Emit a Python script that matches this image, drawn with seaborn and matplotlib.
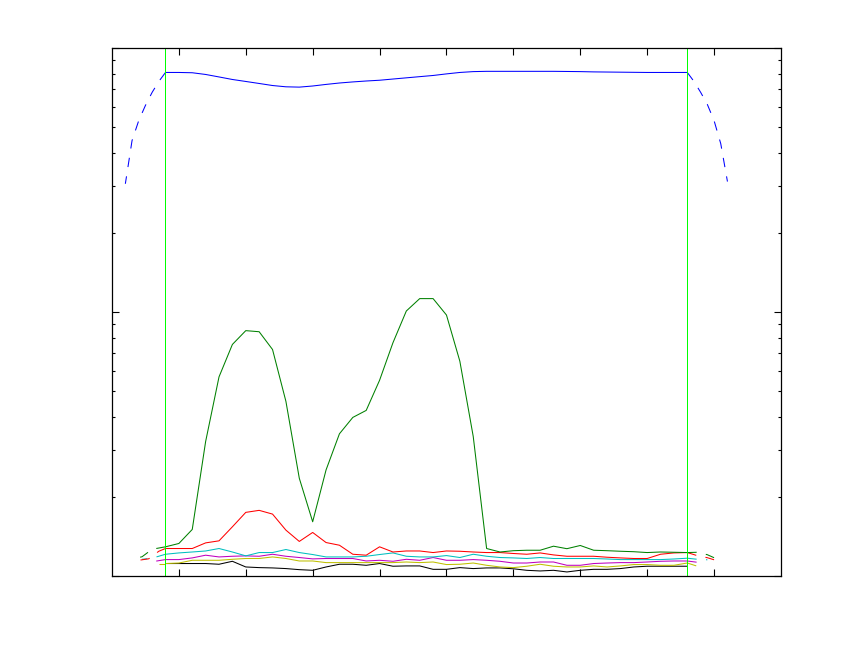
import matplotlib
matplotlib.use("Agg")
import matplotlib.pyplot as plt
import seaborn as sns
import pandas as pd

# sample positions of the solid part (inside the two markers)
x_grid = [0.8, 1.0, 1.2, 1.4, 1.6, 1.8, 2.0, 2.2, 2.4, 2.6,
          2.8, 3.0, 3.2, 3.4, 3.6, 3.8, 4.0, 4.2, 4.4, 4.6,
          4.8, 5.0, 5.2, 5.4, 5.6, 5.8, 6.0, 6.2, 6.4, 6.6,
          6.8, 7.0, 7.2, 7.4, 7.6, 7.8, 8.0, 8.2, 8.4, 8.6]

blue = [8.08, 8.08, 8.06, 7.94, 7.77, 7.60, 7.47, 7.34, 7.21, 7.13,
        7.11, 7.18, 7.28, 7.37, 7.44, 7.50, 7.55, 7.63, 7.71, 7.79,
        7.87, 7.98, 8.08, 8.14, 8.16, 8.16, 8.16, 8.16, 8.16, 8.16,
        8.15, 8.14, 8.12, 8.11, 8.10, 8.09, 8.08, 8.08, 8.08, 8.08]
green = [0.129, 0.1328, 0.1501, 0.3232, 0.5679, 0.7536, 0.850, 0.842, 0.721, 0.4587,
         0.2346, 0.1605, 0.2522, 0.3457, 0.3988, 0.4239, 0.5513, 0.7649, 1.009, 1.124,
         1.124, 0.974, 0.651, 0.3377, 0.1271, 0.1233, 0.1247, 0.1252, 0.1252, 0.1297,
         0.1269, 0.1305, 0.1252, 0.1247, 0.1241, 0.1236, 0.1227, 0.1233, 0.1230, 0.1227]
red = [0.1271, 0.1271, 0.1271, 0.1335, 0.1359, 0.1536, 0.1742, 0.1773, 0.1716, 0.1492,
       0.1352, 0.1462, 0.1339, 0.1308, 0.1209, 0.1199, 0.1290, 0.1233, 0.1244, 0.1244,
       0.1227, 0.1244, 0.1241, 0.1233, 0.1227, 0.1227, 0.1217, 0.1209, 0.1223, 0.1202,
       0.1188, 0.1188, 0.1188, 0.1178, 0.1171, 0.1165, 0.1165, 0.1209, 0.1223, 0.1227]
cyan = [0.1209, 0.1223, 0.1233, 0.1244, 0.1271, 0.1233, 0.1192, 0.1227, 0.1227, 0.1260,
        0.1227, 0.1206, 0.1181, 0.1181, 0.1181, 0.1188, 0.1206, 0.1223, 0.1188, 0.1181,
        0.1181, 0.1195, 0.1175, 0.1209, 0.1188, 0.1175, 0.1171, 0.1165, 0.1175, 0.1165,
        0.1165, 0.1165, 0.1165, 0.1160, 0.1154, 0.1154, 0.1154, 0.1154, 0.1160, 0.1168]
magenta = [0.1154, 0.1154, 0.1171, 0.1199, 0.1181, 0.1188, 0.1192, 0.1188, 0.1209, 0.1188,
           0.1175, 0.1161, 0.1165, 0.1165, 0.1165, 0.1140, 0.1147, 0.1137, 0.1157, 0.1147,
           0.1175, 0.1147, 0.1147, 0.1154, 0.1147, 0.1137, 0.1120, 0.1120, 0.1130, 0.1130,
           0.1098, 0.1098, 0.1115, 0.1120, 0.1124, 0.1124, 0.1130, 0.1137, 0.1140, 0.1140]
yellow = [0.1115, 0.1120, 0.1147, 0.1147, 0.1147, 0.1157, 0.1165, 0.1165, 0.1181, 0.1165,
          0.1140, 0.1140, 0.1124, 0.1124, 0.1124, 0.1124, 0.1124, 0.1124, 0.1130, 0.1124,
          0.1130, 0.1105, 0.1108, 0.1120, 0.1098, 0.1082, 0.1076, 0.1089, 0.1108, 0.1089,
          0.1082, 0.1082, 0.1092, 0.1082, 0.1092, 0.1105, 0.1105, 0.1098, 0.1098, 0.1120]
black = [0.1115, 0.1115, 0.1115, 0.1115, 0.1108, 0.1137, 0.1082, 0.1076, 0.1073, 0.1067,
         0.1057, 0.1051, 0.1082, 0.1108, 0.1108, 0.1098, 0.1115, 0.1089, 0.1092, 0.1092,
         0.1060, 0.1060, 0.1076, 0.1067, 0.1073, 0.1073, 0.1065, 0.1051, 0.1045, 0.1051,
         0.1036, 0.1051, 0.1060, 0.1060, 0.1067, 0.1082, 0.1089, 0.1089, 0.1089, 0.1089]

# dashed tails outside the markers: (left x, left y, right x, right y)
blue_tail = ([0.2, 0.3, 0.4, 0.5, 0.6, 0.7, 0.8], [3.06, 4.46, 5.31, 6.06, 6.79, 7.47, 8.08],
             [8.6, 8.7, 8.8, 8.9, 9.0, 9.1, 9.2], [8.08, 7.47, 6.79, 6.11, 5.31, 4.34, 3.12])
green_tail = ([0.3, 0.45, 0.6, 0.8], [0.1157, 0.1183, 0.1263, 0.129],
              [8.6, 8.75, 8.9, 9.0], [0.1227, 0.1230, 0.1204, 0.1173])
red_tail = ([0.4, 0.55, 0.7, 0.8], [0.1147, 0.1162, 0.1241, 0.1271],
            [8.6, 8.75, 8.9, 9.0], [0.1227, 0.1194, 0.1173, 0.1152])
cyan_tail = ([0.45, 0.6, 0.8], [0.1157, 0.1168, 0.1209],
             [8.6, 8.75, 8.9], [0.1168, 0.1157, 0.1152])
magenta_tail = ([0.55, 0.8], [0.1127, 0.1154], [8.6, 8.75], [0.1140, 0.1127])
yellow_tail = ([0.7, 0.8], [0.1115, 0.1115], [8.6, 8.75], [0.1120, 0.1089])

markers_x = [0.8, 8.6]

series = [
    (blue, blue_tail, "#0000ff"),
    (green, green_tail, "#008000"),
    (red, red_tail, "#ff0000"),
    (cyan, cyan_tail, "#00bfbf"),
    (magenta, magenta_tail, "#bf00bf"),
    (yellow, yellow_tail, "#bfbf00"),
    (black, None, "#000000"),
]

sns.set_style("white")
plt.rcParams["font.family"] = ["DejaVu Sans"]

fig = plt.figure(figsize=(8.64, 6.48), dpi=100)
ax = fig.add_axes([0.1296, 0.1111, 0.7743, 0.8148])

lw = 0.75
for values, tail, color in series[::-1]:
    df = pd.DataFrame({"x": x_grid, "y": values})
    sns.lineplot(data=df, x="x", y="y", color=color, lw=lw, ax=ax, errorbar=None)
    if tail is not None:
        lx, ly, rx, ry = tail
        for tx, ty in ((lx[::-1], ly[::-1]), (rx, ry)):
            ax.plot(tx, ty, color=color, lw=lw, linestyle=(0, (9, 9)))

for mx in markers_x:
    ax.axvline(mx, color="#00ff00", lw=0.72)

ax.set_yscale("log")
ax.set_xlim(0, 10)
ax.set_ylim(0.1, 10)
ax.set_xticks([1, 2, 3, 4, 5, 6, 7, 8, 9])
ax.tick_params(axis="both", which="both", direction="in",
               bottom=True, left=True, top=True, right=True,
               labelbottom=False, labelleft=False, width=0.8, color="black")
ax.tick_params(axis="both", which="major", length=5)
ax.tick_params(axis="y", which="minor", length=2.5)
ax.set_xlabel("")
ax.set_ylabel("")
for sp in ax.spines.values():
    sp.set_color("black")
    sp.set_linewidth(0.9)

fig.savefig("out.png", dpi=100)
